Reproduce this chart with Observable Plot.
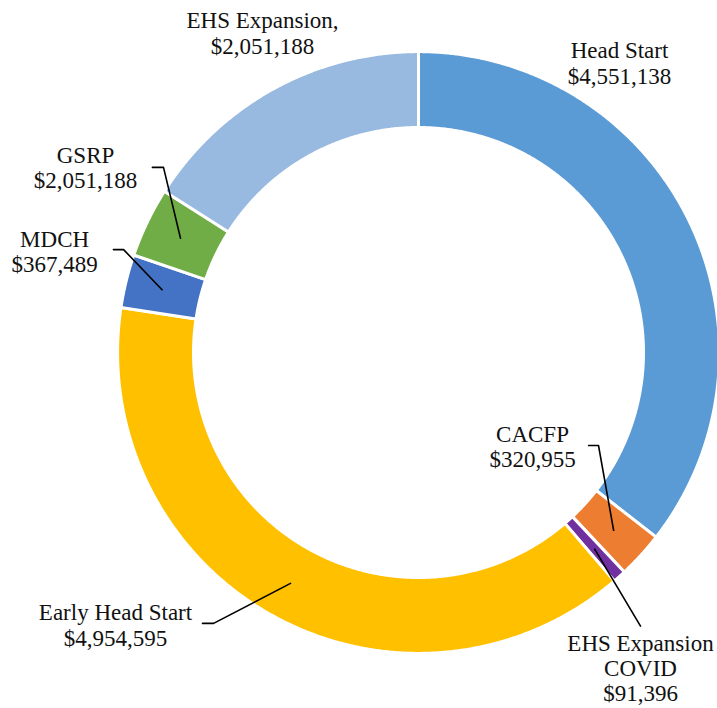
<!DOCTYPE html>
<html><head><meta charset="utf-8">
<script src="https://cdn.jsdelivr.net/npm/d3@7"></script>
<script src="https://cdn.jsdelivr.net/npm/@observablehq/plot@0.6"></script>
<style>body{margin:0;background:#fff}</style>
</head><body><div id="chart"></div>
<script>
// ---- data ----
const categories = ["Head Start", "CACFP", "EHS Expansion COVID", "Early Head Start", "MDCH", "GSRP", "EHS Expansion"];
const values = [4551138, 320955, 91396, 4954595, 367489, 480000, 2051188];
const labelTexts = [
  "Head Start\n$4,551,138",
  "CACFP\n$320,955",
  "EHS Expansion\nCOVID\n$91,396",
  "Early Head Start\n$4,954,595",
  "MDCH\n$367,489",
  "GSRP\n$2,051,188",
  "EHS Expansion,\n$2,051,188"
];
const colors = ["#5B9BD5", "#ED7D31", "#7030A0", "#FFC000", "#4472C4", "#70AD47", "#98B9E0"];

// ---- layout (unit coordinates relative to ring centre, radius 1) ----
const outerR = 1.003, innerR = 0.75, leaderR = 0.88;
const labelPos = [[0.67, 0.965], [0.38, -0.313], [0.74, -1.052], [-1.01, -0.908], [-1.213, 0.338], [-1.11, 0.617], [-0.52, 1.065]];
const leaderStart = [null, [0.567, -0.31], [0.74, -0.912], [-0.72, -0.903], [-1.017, 0.343], [-0.887, 0.617], null];
const leaderElbow = [null, [0.6, -0.31], null, [-0.683, -0.903], [-0.983, 0.343], [-0.85, 0.617], null];

const arcs = d3.pie().sort(null).value(d => d)(values);
const pt = (a, r) => ({x: r * Math.sin(a), y: r * Math.cos(a)});

const slicePts = [];
arcs.forEach((s, i) => {
  const n = Math.max(2, Math.ceil((s.endAngle - s.startAngle) / 0.005));
  for (let j = 0; j <= n; j++) {
    const a = s.startAngle + (s.endAngle - s.startAngle) * j / n;
    slicePts.push({cat: categories[i], ...pt(a, outerR)});
  }
  for (let j = n; j >= 0; j--) {
    const a = s.startAngle + (s.endAngle - s.startAngle) * j / n;
    slicePts.push({cat: categories[i], ...pt(a, innerR)});
  }
});

const labels = categories.map((c, i) => ({x: labelPos[i][0], y: labelPos[i][1], text: labelTexts[i]}));

const leaderPts = [];
arcs.forEach((s, i) => {
  if (!leaderStart[i]) return;
  leaderPts.push({k: i, x: leaderStart[i][0], y: leaderStart[i][1]});
  if (leaderElbow[i]) leaderPts.push({k: i, x: leaderElbow[i][0], y: leaderElbow[i][1]});
  const m = (s.startAngle + s.endAngle) / 2;
  leaderPts.push({k: i, ...pt(m, leaderR)});
});

const W = 717, H = 708, cx = 418, cy = 352, R = 300;
const chart = Plot.plot({
  width: W, height: H, margin: 0,
  x: {domain: [-cx / R, (W - cx) / R], axis: null},
  y: {domain: [-(H - cy) / R, cy / R], axis: null},
  color: {domain: categories, range: colors},
  style: {background: "#fff"},
  marks: [
    Plot.line(slicePts, {x: "x", y: "y", z: "cat", fill: "cat", stroke: "white", strokeWidth: 3, curve: "linear-closed"}),
    Plot.line(leaderPts, {x: "x", y: "y", z: "k", stroke: "#000", strokeWidth: 1.6}),
    Plot.text(labels, {x: "x", y: "y", text: "text", fontSize: 23, lineHeight: 1.1, fontFamily: "Liberation Serif", fill: "#111", textAnchor: "middle"})
  ]
});
document.getElementById("chart").append(chart);
</script>
</body></html>
